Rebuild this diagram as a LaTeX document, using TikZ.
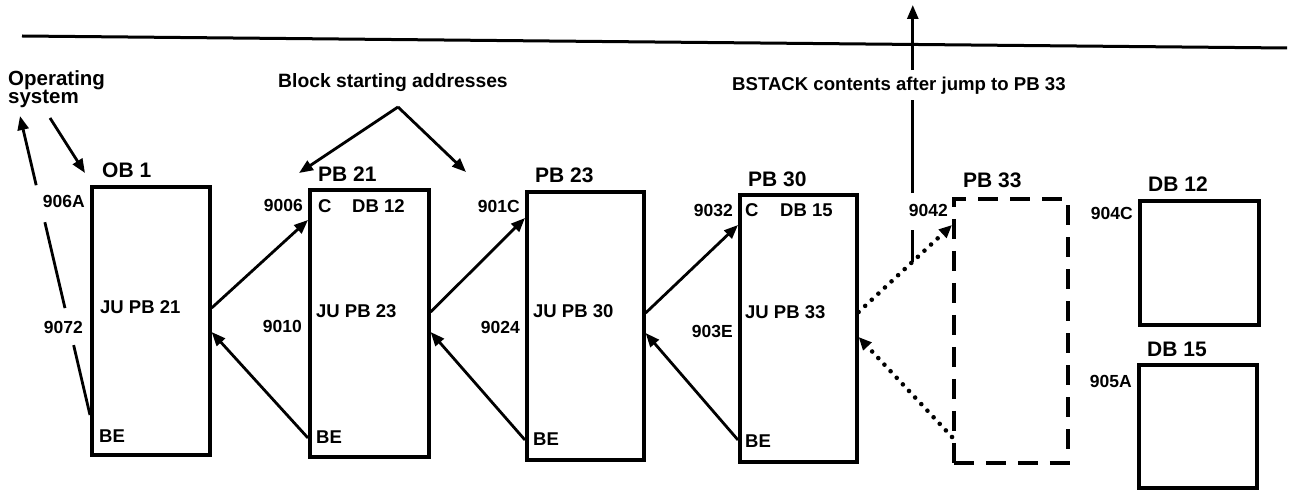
\documentclass[tikz,border=0pt]{standalone}
\usepackage{fontspec}
\setmainfont{Liberation Sans}
\usetikzlibrary{arrows.meta,calc}
\begin{document}
\begin{tikzpicture}[x=1pt,y=-1pt,
  box/.style={draw, line width=3.6pt, anchor=north west, inner sep=0pt},
  dbox/.style={draw, line width=3.6pt, anchor=north west, inner sep=0pt, dash pattern=on 20pt off 12pt},
  title/.style={font=\fontsize{21}{21}\selectfont\bfseries, anchor=base west, inner sep=0pt},
  intext/.style={font=\fontsize{18.5}{18.5}\selectfont\bfseries, anchor=base west, inner sep=0pt},
  addr/.style={font=\fontsize{17.5}{17.5}\selectfont\bfseries, anchor=base east, inner sep=0pt},
  toplab/.style={font=\fontsize{19.3}{19.3}\selectfont\bfseries, anchor=base west, inner sep=0pt},
  arr/.style={line width=2.8pt, -{Triangle[length=14pt,width=11pt]}},
  dotarr/.style={line width=4.6pt, line cap=round, dash pattern=on 0pt off 9pt, -{Triangle[length=13pt,width=11pt]}},
]
\useasboundingbox (0,0) rectangle (1297,494);

% boxes
\node[box, minimum width=118pt, minimum height=268pt] (ob1) at (90,185) {};
\node[box, minimum width=119pt, minimum height=267pt] (pb21) at (308,188) {};
\node[box, minimum width=117pt, minimum height=268pt] (pb23) at (525,190) {};
\node[box, minimum width=117pt, minimum height=267pt] (pb30) at (738,193) {};
\node[dbox, minimum width=114pt, minimum height=264pt] (pb33) at (952,197) {};
\node[box, minimum width=119pt, minimum height=124pt] (db12) at (1138,199) {};
\node[box, minimum width=118pt, minimum height=123pt] (db15) at (1137,363) {};

% titles
\node[title] (tob1) at (102,178) {OB 1};
\node[title] (tpb21) at (318,182) {PB 21};
\node[title] (tpb23) at (535,183) {PB 23};
\node[title] (tpb30) at (748,187) {PB 30};
\node[title] (tpb33) at (963,188) {PB 33};
\node[title] (tdb12) at (1148,192) {DB 12};
\node[title] (tdb15) at (1147,356) {DB 15};

% inner texts
\node[intext] (jo) at (100,313) {JU PB 21};
\node[intext] (beo) at (99,442) {BE};
\node[intext] (c21) at (318,213) {C};
\node[intext] (d21) at (352,213) {DB 12};
\node[intext] (j21) at (316,317) {JU PB 23};
\node[intext] (be21) at (316,443) {BE};
\node[intext] (j23) at (533,317) {JU PB 30};
\node[intext] (be23) at (533,445) {BE};
\node[intext] (c30) at (745,217) {C};
\node[intext] (d30) at (780,217) {DB 15};
\node[intext] (j30) at (745,318) {JU PB 33};
\node[intext] (be30) at (745,447) {BE};

% addresses
\node[addr] (a1) at (85,208) {906A};
\node[addr] (a2) at (83,333) {9072};
\node[addr] (a3) at (303,212) {9006};
\node[addr] (a4) at (302,332) {9010};
\node[addr] (a5) at (520,213) {901C};
\node[addr] (a6) at (520,333) {9024};
\node[addr] (a7) at (733,217) {9032};
\node[addr] (a8) at (733,337) {903E};
\node[addr] (a9) at (948,217) {9042};
\node[addr] (a10) at (1133,220) {904C};
\node[addr] (a11) at (1132,387) {905A};

% top labels
\node[toplab, font=\fontsize{20.5}{18.5}\selectfont\bfseries, align=left, anchor=north west] (os) at (8,70) {Operating\\system};
\node[toplab] (bsa) at (278,88) {Block starting addresses};
\node[toplab, font=\fontsize{18.6}{18.6}\selectfont\bfseries] (bst) at (732,91) {BSTACK contents after jump to PB 33};

% horizontal rule
\coordinate (hl) at (22,36);
\coordinate (hr) at (1287,48);
\draw[line width=3pt] (hl) -- (hr);

% jump / return arrows
\draw[arr] ([yshift=-123pt]ob1.north east) -- ([yshift=-32pt]pb21.north west);
\draw[arr] ([yshift=-250pt]pb21.north west) -- ([yshift=-147pt]ob1.north east);
\draw[arr] ([yshift=-124pt]pb21.north east) -- ([yshift=-28pt]pb23.north west);
\draw[arr] ([yshift=-250pt]pb23.north west) -- ([yshift=-144pt]pb21.north east);
\draw[arr] ([yshift=-123pt]pb23.north east) -- ([yshift=-32pt]pb30.north west);
\draw[arr] ([yshift=-247pt]pb30.north west) -- ([yshift=-143pt]pb23.north east);
\draw[dotarr] ([yshift=-119pt]pb30.north east) -- coordinate[pos=0.58] (j) ([yshift=-28pt]pb33.north west);
\draw[dotarr] ([yshift=-240pt]pb33.north west) -- ([yshift=-144pt]pb30.north east);

% BSTACK pointer
\coordinate (top) at (912,5);
\draw[line width=2.8pt, -{Triangle[length=14pt,width=11pt]}, dash pattern=on 31.5pt off 37pt on 93pt off 30pt on 200pt] (j) -- (j |- top);

% operating system arrows
\coordinate (osA) at (20,116);
\coordinate (osB) at (50,118);
\draw[line width=2.8pt, -{Triangle[length=14pt,width=11pt]}, dash pattern=on 71.8pt off 38pt on 88.2pt off 38pt on 200pt] ([yshift=-230pt]ob1.north west) -- (osA);
\draw[arr] (osB) -- ([xshift=-5pt,yshift=12pt]ob1.north west);

% block starting addresses arrows
\coordinate (apex) at (398,107);
\draw[arr] (apex) -- ([xshift=-9pt,yshift=15pt]pb21.north west);
\draw[arr] (apex) -- ([xshift=-59pt,yshift=18pt]pb23.north west);
\end{tikzpicture}
\end{document}
